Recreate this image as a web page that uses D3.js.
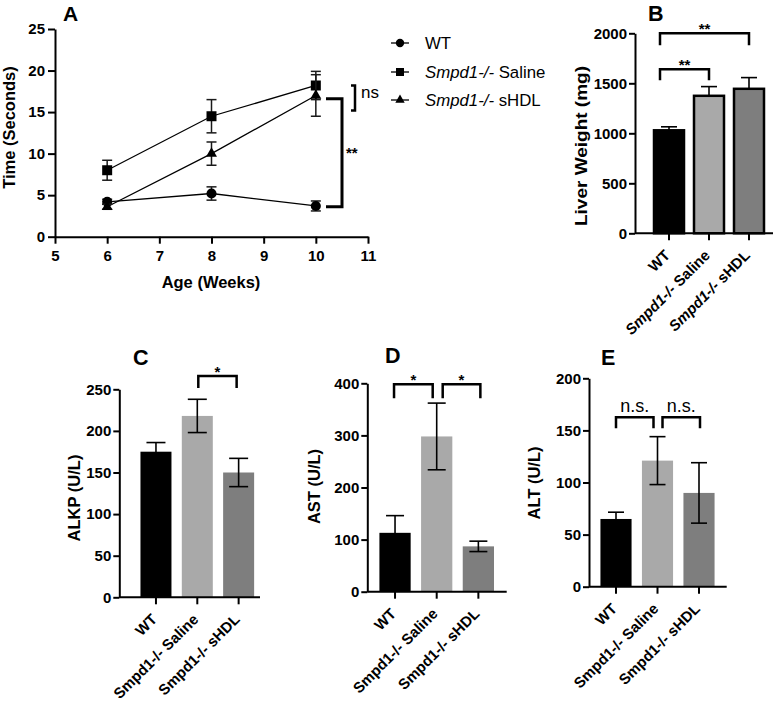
<!DOCTYPE html>
<html><head><meta charset="utf-8">
<script src="https://cdn.jsdelivr.net/npm/d3@7"></script>
<style>body{margin:0;background:#fff} svg{display:block} text{font-family:"Liberation Sans",Arial,Helvetica,sans-serif}</style>
</head><body>
<svg id="c" width="780" height="702"></svg>
<script>
// ---------- DATA ----------
const weeks = [6, 8, 10];
const ageTicks = [5, 6, 7, 8, 9, 10, 11];
const timeTicks = [0, 5, 10, 15, 20, 25];
const wtTime = [4.2, 5.2, 3.7];
const wtTimeErr = [0.3, 0.8, 0.6];
const salineTime = [8.0, 14.5, 18.2];
const salineTimeErr = [1.2, 2.0, 1.7];
const shdlTime = [3.6, 10.0, 17.0];
const shdlTimeErr = [0.3, 1.4, 2.5];
const legendLabels = [["", "WT"], ["Smpd1-/-", " Saline"], ["Smpd1-/-", " sHDL"]];

const groups = ["WT", "Smpd1-/- Saline", "Smpd1-/- sHDL"];
const liverWeight = [1030, 1375, 1445];
const liverErr = [35, 92, 112];
const liverTicks = [0, 500, 1000, 1500, 2000];
const alkp = [175, 218, 150];
const alkpErr = [11, 20, 17];
const alkpTicks = [0, 50, 100, 150, 200, 250];
const ast = [113, 298, 87];
const astErr = [33, 64, 10];
const astTicks = [0, 100, 200, 300, 400];
const alt = [65, 121, 90];
const altErr = [6.5, 23, 29];
const altTicks = [0, 50, 100, 150, 200];

// ---------- DRAW ----------
const FONT = '"Liberation Sans",Arial,Helvetica,sans-serif';
const svg = d3.select("#c");
const barColors = ["#000000", "#a9a9a9", "#7e7e7e"];
const fmt = d3.format("d");
const TICKFS = 15;

function styleAxis(g) {
  g.selectAll("path.domain").attr("stroke", "#000").attr("stroke-width", 2);
  g.selectAll(".tick line").attr("stroke", "#000").attr("stroke-width", 2);
  g.selectAll(".tick text").attr("font-size", TICKFS).attr("font-weight", "bold")
    .attr("fill", "#000").attr("font-family", FONT);
}
function label(txt, x, y, size, opts) {
  opts = opts || {};
  return svg.append("text").attr("x", x).attr("y", y).attr("font-size", size)
    .attr("font-weight", opts.weight || "bold").attr("text-anchor", opts.anchor || "start")
    .attr("fill", "#000").text(txt);
}
function rotTitle(txt, x, y, size, len) {
  const t = svg.append("text").attr("transform", `translate(${x},${y}) rotate(-90)`)
    .attr("text-anchor", "middle").attr("font-size", size).attr("font-weight", "bold").text(txt);
  if (len) t.attr("textLength", len).attr("lengthAdjust", "spacingAndGlyphs");
}

// ===== Panel A =====
const xA = d3.scaleLinear().domain([5, 11]).range([55, 368]);
const yA = d3.scaleLinear().domain([0, 25]).range([236.7, 29]);
svg.append("g").attr("transform", "translate(55,0)")
  .call(d3.axisLeft(yA).tickValues(timeTicks).tickFormat(fmt).tickSize(7).tickSizeOuter(0).tickPadding(3))
  .call(g => styleAxis(g));
svg.append("g").attr("transform", "translate(0,236.7)")
  .call(d3.axisBottom(xA).tickValues(ageTicks).tickFormat(fmt).tickSize(7).tickSizeOuter(0).tickPadding(7))
  .call(g => styleAxis(g));

const seriesA = [
  {vals: wtTime, err: wtTimeErr, sym: d3.symbolCircle, size: 80, lsize: 55},
  {vals: salineTime, err: salineTimeErr, sym: d3.symbolSquare, size: 100, lsize: 64},
  {vals: shdlTime, err: shdlTimeErr, sym: d3.symbolTriangle, size: 52, lsize: 38}
];
const lineA = d3.line().x((d, i) => xA(weeks[i])).y(d => yA(d));
seriesA.forEach(s => {
  svg.append("path").datum(s.vals).attr("d", lineA).attr("fill", "none")
    .attr("stroke", "#000").attr("stroke-width", 1.3);
  const eg = svg.append("g").attr("stroke", "#1a1a1a").attr("stroke-width", 1.5);
  s.vals.forEach((v, i) => {
    const x = xA(weeks[i]);
    eg.append("line").attr("x1", x).attr("x2", x).attr("y1", yA(v - s.err[i])).attr("y2", yA(v + s.err[i]));
    [v - s.err[i], v + s.err[i]].forEach(e =>
      eg.append("line").attr("x1", x - 5).attr("x2", x + 5).attr("y1", yA(e)).attr("y2", yA(e)));
  });
  svg.append("g").selectAll("path").data(s.vals).join("path")
    .attr("transform", (d, i) => `translate(${xA(weeks[i])},${yA(d)})`)
    .attr("d", d3.symbol().type(s.sym).size(s.size)).attr("fill", "#000");
});
// A significance brackets
const nsX = 355;
svg.append("path").attr("d", `M${nsX - 4},${yA(18.2)}H${nsX}V${yA(15.2)}H${nsX - 4}`)
  .attr("fill", "none").attr("stroke", "#000").attr("stroke-width", 2.5);
label("ns", 361, 98, 17, {weight: "normal"});
const bx = 342;
svg.append("path").attr("d", `M326,${yA(16.6)}H${bx}V${yA(3.6)}H326`)
  .attr("fill", "none").attr("stroke", "#000").attr("stroke-width", 3);
label("**", 346, 158, 15);

label("Age (Weeks)", 211, 288, 16.5, {anchor: "middle"});
rotTitle("Time (Seconds)", 15, 127.5, 16.5);
label("A", 63, 21, 21);

// Legend
const legY = [43, 72, 100];
seriesA.forEach((s, i) => {
  svg.append("line").attr("x1", 391).attr("x2", 409).attr("y1", legY[i]).attr("y2", legY[i])
    .attr("stroke", "#000").attr("stroke-width", 1.3);
  svg.append("path").attr("transform", `translate(400,${legY[i]})`)
    .attr("d", d3.symbol().type(s.sym).size(s.lsize)).attr("fill", "#000");
  const t = svg.append("text").attr("x", 425).attr("y", legY[i] + 6).attr("font-size", 16.8).attr("fill", "#000");
  if (legendLabels[i][0]) t.append("tspan").attr("font-style", "italic").text(legendLabels[i][0]);
  t.append("tspan").text(legendLabels[i][1]);
});

// ===== Bar panels =====
function barPanel(c) {
  const x = d3.scaleBand().domain(groups).range([c.r0, c.r1]).paddingInner(0.25).paddingOuter(0.125);
  const y = d3.scaleLinear().domain([0, c.ticks[c.ticks.length - 1]]).range([c.y0, c.y1]);
  // bars
  svg.append("g").selectAll("rect").data(c.values).join("rect")
    .attr("x", (d, i) => x(groups[i])).attr("width", x.bandwidth())
    .attr("y", d => y(d)).attr("height", d => c.y0 - y(d))
    .attr("fill", (d, i) => barColors[i])
    .attr("stroke", c.outline ? "#000" : "none").attr("stroke-width", c.outline ? 2.5 : 0);
  // error bars
  const eg = svg.append("g").attr("stroke", "#000").attr("stroke-width", 1.6);
  c.values.forEach((v, i) => {
    const cx = x(groups[i]) + x.bandwidth() / 2;
    const lo = c.bothErr ? v - c.errs[i] : v, hi = v + c.errs[i];
    eg.append("line").attr("x1", cx).attr("x2", cx).attr("y1", y(lo)).attr("y2", y(hi));
    eg.append("line").attr("x1", cx - c.capW / 2).attr("x2", cx + c.capW / 2).attr("y1", y(hi)).attr("y2", y(hi));
    if (c.bothErr) eg.append("line").attr("x1", cx - c.capW / 2).attr("x2", cx + c.capW / 2).attr("y1", y(lo)).attr("y2", y(lo));
  });
  // y axis
  svg.append("g").attr("transform", `translate(${c.ax0},0)`)
    .call(d3.axisLeft(y).tickValues(c.ticks).tickFormat(fmt).tickSize(6).tickSizeOuter(0).tickPadding(2))
    .call(g => styleAxis(g));
  // x axis
  const gx = svg.append("g").attr("transform", `translate(0,${c.y0})`)
    .call(d3.axisBottom(x).tickSize(7).tickSizeOuter(0).tickFormat(""));
  gx.select("path.domain").remove();
  styleAxis(gx);
  svg.append("line").attr("x1", c.ax0).attr("x2", c.ax1).attr("y1", c.y0).attr("y2", c.y0)
    .attr("stroke", "#000").attr("stroke-width", 2);
  // rotated x labels
  groups.forEach((gname, i) => {
    const cx = x(gname) + x.bandwidth() / 2;
    const t = svg.append("text").attr("transform", `translate(${cx + 2},${c.y0 + 23}) rotate(-45)`)
      .attr("text-anchor", "end").attr("font-size", 15).attr("font-weight", "bold").attr("fill", "#000");
    const parts = gname.split(" ");
    if (parts.length > 1) {
      t.append("tspan").attr("font-style", c.italic ? "italic" : "normal").text(parts[0]);
      t.append("tspan").text(" " + parts[1]);
    } else t.text(gname);
  });
  // brackets
  c.brackets.forEach(b => {
    const xa = x(groups[b.from]) + x.bandwidth() / 2 + b.dx[0];
    const xb = x(groups[b.to]) + x.bandwidth() / 2 + b.dx[1];
    const yt = y(b.y), ya = yt + b.arm;
    svg.append("path").attr("d", `M${xa},${ya}V${yt}H${xb}V${ya}`)
      .attr("fill", "none").attr("stroke", "#000").attr("stroke-width", 2.5);
    if (b.txt.indexOf("*") >= 0) label(b.txt, (xa + xb) / 2, yt + 1, 15, {anchor: "middle"});
    else label(b.txt, (xa + xb) / 2, yt - 5.5, 18, {anchor: "middle", weight: "normal"});
  });
  rotTitle(c.title, c.tx, c.ty, c.tsize || 16.5, c.tlen);
  label(c.letter, c.lx, c.ly, 21.5);
}

barPanel({values: liverWeight, errs: liverErr, ticks: liverTicks, r0: 649, r1: 769,
  y0: 233.3, y1: 33.3, ax0: 635, ax1: 773, outline: true, bothErr: false, italic: true, capW: 16,
  title: "Liver Weight (mg)", tx: 587, ty: 146, tsize: 17, tlen: 160, letter: "B", lx: 648, ly: 21,
  brackets: [{from: 0, to: 2, y: 2000, arm: 12, dx: [-9, 0], txt: "**"},
             {from: 0, to: 1, y: 1640, arm: 11, dx: [-9, 0], txt: "**"}]});

barPanel({values: alkp, errs: alkpErr, ticks: alkpTicks, r0: 135.3, r1: 259.3,
  y0: 597.3, y1: 389.3, ax0: 119.3, ax1: 260, outline: false, bothErr: true, italic: false, capW: 19,
  title: "ALKP (U/L)", tx: 80, ty: 498, letter: "C", lx: 133, ly: 365,
  brackets: [{from: 1, to: 2, y: 266, arm: 12, dx: [1, -2], txt: "*"}]});

barPanel({values: ast, errs: astErr, ticks: astTicks, r0: 374.2, r1: 499.2,
  y0: 591.7, y1: 383.3, ax0: 367.3, ax1: 506.7, outline: false, bothErr: true, italic: false, capW: 18,
  title: "AST (U/L)", tx: 320, ty: 486.5, letter: "D", lx: 385, ly: 363,
  brackets: [{from: 0, to: 1, y: 398, arm: 14, dx: [-1, -4], txt: "*"},
             {from: 1, to: 2, y: 398, arm: 14, dx: [6, 2], txt: "*"}]});

barPanel({values: alt, errs: altErr, ticks: altTicks, r0: 595.25, r1: 719.75,
  y0: 586.7, y1: 378.3, ax0: 589, ax1: 726.7, outline: false, bothErr: true, italic: false, capW: 16,
  title: "ALT (U/L)", tx: 540, ty: 483, letter: "E", lx: 601, ly: 365,
  brackets: [{from: 0, to: 1, y: 162.6, arm: 11, dx: [0, -4], txt: "n.s."},
             {from: 1, to: 2, y: 162.6, arm: 11, dx: [5, 1], txt: "n.s."}]});
</script>
</body></html>
